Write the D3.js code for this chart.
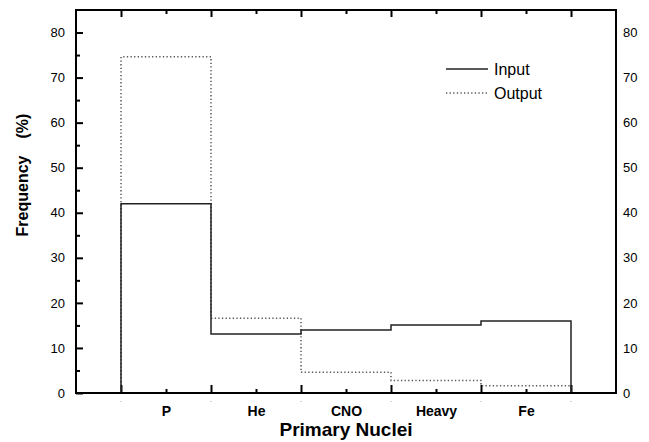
<!DOCTYPE html>
<html>
<head>
<meta charset="utf-8">
<script src="https://cdn.jsdelivr.net/npm/d3@7/dist/d3.min.js"></script>
<style>
  html, body { margin: 0; padding: 0; background: #fff; }
  svg { display: block; }
  text { font-family: "Liberation Sans", Arial, Helvetica, sans-serif; fill: #000; }
</style>
</head>
<body>
<svg id="chart" width="649" height="442"></svg>
<script>
// Primary nuclei composition: input vs. reconstructed output frequencies (%)
const categories = ["P", "He", "CNO", "Heavy", "Fe"];
const inputValues = [42.0, 13.1, 14.0, 15.1, 16.0];
const outputValues = [74.6, 16.6, 4.6, 2.8, 1.6];
const yTickValues = [0, 10, 20, 30, 40, 50, 60, 70, 80];
const yMinorValues = [5, 15, 25, 35, 45, 55, 65, 75];
const seriesNames = ["Input", "Output"];

const svg = d3.select("#chart");
const plot = { left: 76, right: 616, top: 10, bottom: 393 };

// bins sit between integer edges 0..5; the frame extends half a bin on each side
const x = d3.scaleLinear().domain([-0.5, categories.length + 0.5]).range([plot.left, plot.right]);
const y = d3.scaleLinear().domain([0, 85]).range([plot.bottom, plot.top]);

const edges = d3.range(categories.length + 1);
const centers = categories.map((_, i) => i + 0.5);

function styleAxis(g) {
  g.select(".domain").remove();
  g.selectAll(".tick line").attr("stroke", "#000").attr("stroke-width", 2);
  g.selectAll("text").attr("font-size", 13).attr("fill", "#000");
}

// left axis: labelled major ticks and minor ticks, pointing inward
svg.append("g").attr("transform", `translate(${plot.left},0)`)
  .call(d3.axisLeft(y).tickValues(yTickValues).tickSize(-7).tickPadding(11).tickFormat(d3.format("d")))
  .call(styleAxis);
svg.append("g").attr("transform", `translate(${plot.left},0)`)
  .call(d3.axisLeft(y).tickValues(yMinorValues).tickSize(-4).tickFormat(""))
  .call(styleAxis);

// right axis: labels only
svg.append("g").attr("transform", `translate(${plot.right},0)`)
  .call(d3.axisRight(y).tickValues(yTickValues).tickSize(0).tickPadding(7).tickFormat(d3.format("d")))
  .call(styleAxis);

// bottom axis: bin-edge ticks, centre ticks with category labels
svg.append("g").attr("transform", `translate(0,${plot.bottom})`)
  .call(d3.axisBottom(x).tickValues(edges).tickSize(-8).tickFormat(""))
  .call(styleAxis);
svg.append("g").attr("transform", `translate(0,${plot.bottom})`)
  .call(d3.axisBottom(x).tickValues(centers).tickSize(-4).tickPadding(13).tickFormat((d, i) => categories[i]))
  .call(styleAxis)
  .selectAll("text").attr("font-size", 14).attr("font-weight", "bold");

// faint marks just below the bin edges
svg.append("g").selectAll("line").data(edges).join("line")
  .attr("x1", d => x(d)).attr("x2", d => x(d))
  .attr("y1", plot.bottom + 8).attr("y2", plot.bottom + 9)
  .attr("stroke", "#aaa").attr("stroke-width", 1);

// top axis: mirrored ticks
svg.append("g").attr("transform", `translate(0,${plot.top})`)
  .call(d3.axisTop(x).tickValues(edges).tickSize(-7).tickFormat(""))
  .call(styleAxis);
svg.append("g").attr("transform", `translate(0,${plot.top})`)
  .call(d3.axisTop(x).tickValues(centers).tickSize(-4).tickFormat(""))
  .call(styleAxis);

// step outline for one series: rises at the first edge, falls at the last
function stepPoints(values) {
  const pts = [[0, 0]];
  values.forEach((v, i) => { pts.push([i, v]); pts.push([i + 1, v]); });
  pts.push([values.length, 0]);
  return pts;
}
const line = d3.line().x(d => x(d[0])).y(d => y(d[1]));

svg.append("path").attr("d", line(stepPoints(outputValues)))
  .attr("fill", "none").attr("stroke", "#555").attr("stroke-width", 1.5)
  .attr("stroke-dasharray", "1.3,2.3");
svg.append("path").attr("d", line(stepPoints(inputValues)))
  .attr("fill", "none").attr("stroke", "#222").attr("stroke-width", 1.5);

// frame
svg.append("rect")
  .attr("x", plot.left).attr("y", plot.top)
  .attr("width", plot.right - plot.left).attr("height", plot.bottom - plot.top)
  .attr("fill", "none").attr("stroke", "#000").attr("stroke-width", 2);

// legend
const legend = svg.append("g");
const legendRows = [
  { name: seriesNames[0], y: 69, stroke: "#222", dash: null },
  { name: seriesNames[1], y: 93, stroke: "#555", dash: "1.3,2.3" }
];
legendRows.forEach(r => {
  legend.append("line").attr("x1", 446).attr("x2", 488).attr("y1", r.y).attr("y2", r.y)
    .attr("stroke", r.stroke).attr("stroke-width", 1.5).attr("stroke-dasharray", r.dash);
  legend.append("text").attr("x", 494).attr("y", r.y + 5.5).attr("font-size", 16).text(r.name);
});

// axis titles
svg.append("text")
  .attr("x", (plot.left + plot.right) / 2).attr("y", 436)
  .attr("text-anchor", "middle").attr("font-size", 19).attr("font-weight", "bold")
  .text("Primary Nuclei");

const yTitle = svg.append("text")
  .attr("transform", "translate(28,175) rotate(-90)")
  .attr("text-anchor", "middle").attr("font-size", 16).attr("font-weight", "bold");
yTitle.append("tspan").text("Frequency");
yTitle.append("tspan").attr("dx", 17).text("(%)");
</script>
</body>
</html>
